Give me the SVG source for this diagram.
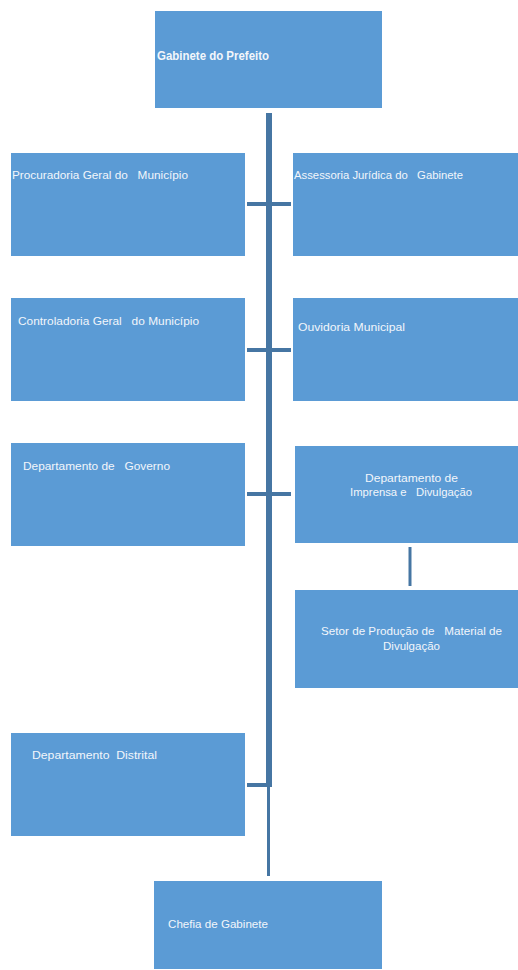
<svg xmlns="http://www.w3.org/2000/svg" width="518" height="970" viewBox="0 0 518 970">
<style>
.box{fill:#5B9BD5}
.t{font-family:"Liberation Sans",Arial,sans-serif;font-size:11.5px;fill:#F2F6FB;white-space:pre}
.b{font-weight:bold;font-size:12px}
.c{stroke:#4676A3;fill:none}
</style>
<rect width="518" height="970" fill="#fff"/>
<g id="connectors">
  <line class="c" x1="269" y1="113" x2="269" y2="787" stroke-width="6"/>
  <line class="c" x1="268.5" y1="785" x2="268.5" y2="876" stroke-width="3"/>
  <line class="c" x1="247" y1="204" x2="291" y2="204" stroke-width="4"/>
  <line class="c" x1="247" y1="350" x2="291" y2="350" stroke-width="4"/>
  <line class="c" x1="247" y1="494" x2="291" y2="494" stroke-width="4"/>
  <line class="c" x1="247" y1="785" x2="270" y2="785" stroke-width="4"/>
  <line class="c" x1="410" y1="547" x2="410" y2="586" stroke-width="3"/>
</g>
<g id="gabinete-prefeito">
  <rect class="box" x="155" y="11" width="227" height="97"/>
  <text class="t b" x="157" y="60" textLength="112" lengthAdjust="spacingAndGlyphs">Gabinete do Prefeito</text>
</g>
<g id="procuradoria">
  <rect class="box" x="11" y="153" width="234" height="103"/>
  <text class="t" x="12" y="179" textLength="176" lengthAdjust="spacingAndGlyphs">Procuradoria Geral do   Município</text>
</g>
<g id="assessoria">
  <rect class="box" x="293" y="153" width="225" height="103"/>
  <text class="t" x="294" y="179" textLength="169" lengthAdjust="spacingAndGlyphs">Assessoria Jurídica do   Gabinete</text>
</g>
<g id="controladoria">
  <rect class="box" x="11" y="298" width="234" height="103"/>
  <text class="t" x="18" y="325" textLength="181" lengthAdjust="spacingAndGlyphs">Controladoria Geral   do Município</text>
</g>
<g id="ouvidoria">
  <rect class="box" x="293" y="298" width="225" height="103"/>
  <text class="t" x="298" y="331" textLength="107" lengthAdjust="spacingAndGlyphs">Ouvidoria Municipal</text>
</g>
<g id="governo">
  <rect class="box" x="11" y="443" width="234" height="103"/>
  <text class="t" x="23" y="470" textLength="147" lengthAdjust="spacingAndGlyphs">Departamento de   Governo</text>
</g>
<g id="imprensa">
  <rect class="box" x="295" y="446" width="223" height="97"/>
  <text class="t" x="365" y="482" textLength="93" lengthAdjust="spacingAndGlyphs">Departamento de</text>
  <text class="t" x="350" y="496" textLength="122" lengthAdjust="spacingAndGlyphs">Imprensa e   Divulgação</text>
</g>
<g id="setor-producao">
  <rect class="box" x="295" y="590" width="223" height="98"/>
  <text class="t" x="321" y="635" textLength="181" lengthAdjust="spacingAndGlyphs">Setor de Produção de   Material de</text>
  <text class="t" x="383" y="650" textLength="57" lengthAdjust="spacingAndGlyphs">Divulgação</text>
</g>
<g id="distrital">
  <rect class="box" x="11" y="733" width="234" height="103"/>
  <text class="t" x="32" y="759" textLength="125" lengthAdjust="spacingAndGlyphs">Departamento  Distrital</text>
</g>
<g id="chefia">
  <rect class="box" x="154" y="881" width="228" height="88"/>
  <text class="t" x="168" y="928" textLength="100" lengthAdjust="spacingAndGlyphs">Chefia de Gabinete</text>
</g>
</svg>
